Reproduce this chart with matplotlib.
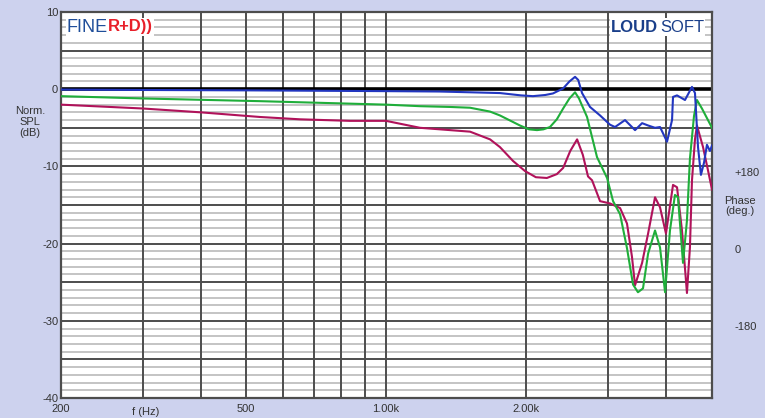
import matplotlib
matplotlib.use("Agg")
import matplotlib.pyplot as plt

plt.rcParams['font.family'] = ['Liberation Sans', 'DejaVu Sans']

# frequency response curves (Hz, dB)
blue_f = [200, 300, 500, 700, 1000, 1300, 1516, 1758, 1950, 2070, 2200, 2286, 2404, 2480, 2550,
          2590, 2640, 2746, 2886, 3032, 3108, 3266, 3432, 3554, 3661, 3789, 3884, 4021, 4122,
          4142, 4225, 4395, 4550, 4618, 4688, 4756, 4830, 4900, 4973, 5024]
blue_db = [-0.05, -0.1, -0.15, -0.2, -0.25, -0.3, -0.4, -0.5, -0.8, -0.9, -0.75, -0.55, 0.1, 1.0, 1.6,
           1.2, -0.5, -2.3, -3.4, -4.6, -4.9, -4.0, -5.3, -4.4, -4.7, -5.0, -4.9, -6.8, -4.0,
           -1.0, -0.8, -1.4, 0.3, -0.5, -7.5, -11.1, -9.5, -7.2, -8.0, -7.3]

green_f = [200, 300, 536, 1000, 1183, 1373, 1516, 1674, 1758, 1941, 2030, 2112, 2180, 2252,
           2330, 2404, 2480, 2550, 2600, 2706, 2843, 2988, 3078, 3187, 3298, 3398, 3482, 3570,
           3661, 3789, 3884, 3982, 4080, 4182, 4245, 4352, 4438, 4504, 4595, 4663, 4780, 5024]
green_db = [-0.9, -1.2, -1.55, -2.0, -2.2, -2.3, -2.4, -2.9, -3.4, -4.7, -5.2, -5.3, -5.2, -4.9,
            -3.9, -2.5, -1.2, -0.4, -1.2, -3.6, -8.8, -11.5, -14.5, -16.2, -20.6, -25.3, -26.3, -25.8,
            -21.3, -18.3, -20.5, -26.3, -18.3, -13.7, -14.0, -22.5, -17.0, -9.0, -3.5, -1.4, -2.5, -5.0]

red_f = [200, 300, 400, 536, 653, 836, 1000, 1183, 1373, 1516, 1674, 1758, 1876, 1990,
         2100, 2218, 2330, 2404, 2490, 2576, 2650, 2719, 2774, 2886, 3032, 3187, 3298, 3380,
         3432, 3554, 3661, 3789, 3884, 4000, 4142, 4225, 4330, 4438, 4504, 4550, 4618, 4663,
         4806, 4925, 5024]
red_db = [-2.0, -2.5, -3.0, -3.6, -3.9, -4.1, -4.1, -5.0, -5.3, -5.5, -6.5, -7.5, -9.3, -10.6,
          -11.4, -11.5, -11.0, -10.2, -8.0, -6.5, -8.5, -11.3, -11.8, -14.5, -14.8, -15.4, -17.4,
          -21.7, -25.4, -22.5, -18.7, -14.0, -15.3, -18.7, -12.4, -12.7, -18.3, -26.4, -20.5,
          -11.8, -6.5, -4.7, -7.5, -10.5, -13.0]

x_ticks = [200, 500, 1000, 2000]
x_labels = ['200', '500', '1.00k', '2.00k']
v_grid = [300, 400, 500, 600, 700, 800, 900, 1000, 2000, 3000, 4000]
y_ticks = [10, 0, -10, -20, -30, -40]
phase_ticks = [180, 0, -180]
phase_labels = ['+180', '0', '-180']

bg = '#cdd2ee'
fig = plt.figure(figsize=(7.65, 4.18), dpi=100, facecolor=bg)
ax = fig.add_axes([61/765, 1 - 398/418, (712 - 61)/765, (398 - 12)/418])
ax.set_facecolor('white')
ax.set_xscale('log')
ax.set_xlim(200, 5024)
ax.set_ylim(-40, 10)

# grid
for v in range(-40, 11):
    if v == 0:
        continue
    if v % 5 == 0:
        ax.axhline(v, color='#4d4d4d', lw=1.4, zorder=1)
    else:
        ax.axhline(v, color='#b4b4b4', lw=1.1, zorder=0.5)
for f in v_grid:
    ax.axvline(f, color='#4d4d4d', lw=1.4, zorder=1)
ax.axhline(0, color='black', lw=2.6, zorder=1.5)

ax.plot(red_f, red_db, color='#b0125a', lw=1.5, zorder=3, solid_joinstyle='round')
ax.plot(green_f, green_db, color='#1fae3a', lw=1.5, zorder=3, solid_joinstyle='round')
ax.plot(blue_f, blue_db, color='#2236c0', lw=1.5, zorder=4, solid_joinstyle='round')

for s in ax.spines.values():
    s.set_color('#4d4d4d')
    s.set_linewidth(1.6)

ax.set_yticks(y_ticks)
ax.set_yticklabels([str(v) for v in y_ticks])
ax.set_xticks(x_ticks)
ax.set_xticklabels(x_labels)
ax.xaxis.set_minor_locator(matplotlib.ticker.NullLocator())
ax.tick_params(length=0, labelsize=8, colors='#333333', pad=4)
ax.tick_params(axis='y', pad=2)
ax.text(304, -41.2, 'f (Hz)', ha='center', va='top', fontsize=8, color='#333333')

# right side phase labels
ax2 = ax.twinx()
ax2.set_ylim((-40 + 20.7) * 18, (10 + 20.7) * 18)
ax2.set_yticks(phase_ticks)
ax2.set_yticklabels(phase_labels)
ax2.tick_params(length=0, labelsize=8, colors='#333333', pad=16)
for s in ax2.spines.values():
    s.set_visible(False)
fig.text(740/765, 1 - 206/418, 'Phase\n(deg.)', ha='center', va='center',
         fontsize=8, color='#333333', linespacing=1.1)

fig.text(30/765, 1 - 122/418, 'Norm.\nSPL\n(dB)', ha='center', va='center',
         fontsize=8, color='#333333', linespacing=1.1)

# logos
box = dict(facecolor='white', edgecolor='none', pad=1)
fig.text(67/765, 1 - 27/418, 'FINE', ha='left', va='center', fontsize=13,
         color='#1f4e9a', bbox=box)
fig.text(108/765, 1 - 27/418, 'R+D))', ha='left', va='center', fontsize=12,
         color='#e8202a', fontweight='bold', bbox=box)
fig.text(611/765, 1 - 27/418, 'LOUD', ha='left', va='center', fontsize=12,
         color='#1a3f8a', fontweight='bold', bbox=box)
fig.text(660/765, 1 - 27/418, 'SOFT', ha='left', va='center', fontsize=12,
         color='#1a3f8a', bbox=box)

fig.savefig('out.png', dpi=100, facecolor=bg)
